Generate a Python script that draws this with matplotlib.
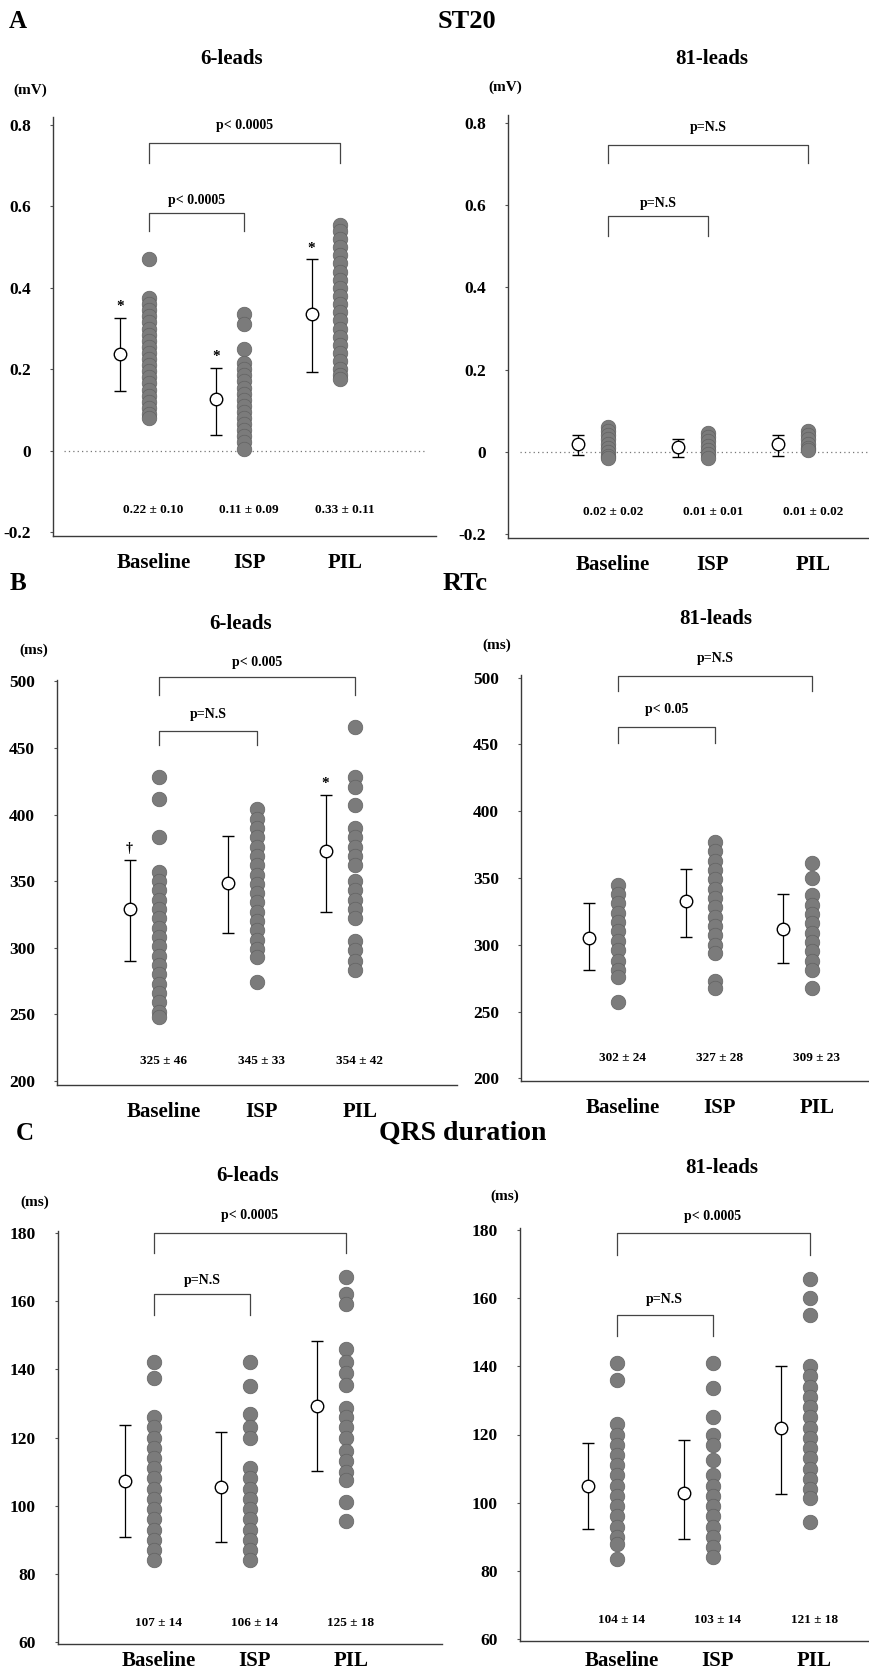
import numpy as np
import matplotlib
matplotlib.use("Agg")
import matplotlib.pyplot as plt

plt.rcParams['font.family'] = ['Liberation Serif', 'DejaVu Serif']
plt.rcParams['font.weight'] = 'bold'

W, H = 870, 1675

groups = ["Baseline", "ISP", "PIL"]

# ---- data ----
# A: ST20 (mV)
st6_dots = [
    [0.47, 0.375, 0.36, 0.345, 0.33, 0.315, 0.30, 0.285, 0.27, 0.255, 0.24, 0.225, 0.21, 0.195,
     0.18, 0.165, 0.15, 0.135, 0.12, 0.105, 0.09, 0.08],
    [0.335, 0.31, 0.25, 0.215, 0.20, 0.185, 0.17, 0.155, 0.14, 0.125, 0.11, 0.095, 0.08,
     0.065, 0.05, 0.035, 0.02, 0.005],
    [0.555, 0.54, 0.52, 0.50, 0.48, 0.46, 0.44, 0.42, 0.40, 0.38, 0.36, 0.34, 0.32, 0.30,
     0.28, 0.26, 0.24, 0.22, 0.20, 0.185, 0.175],
]
st6_mean = [0.238, 0.128, 0.336]
st6_lo = [0.146, 0.038, 0.194]
st6_hi = [0.326, 0.203, 0.47]
st6_txt = ["0.22 ± 0.10", "0.11 ± 0.09", "0.33 ± 0.11"]
st6_mark = ["*", "*", "*"]

st81_dots = [
    [0.06, 0.05, 0.04, 0.03, 0.02, 0.01, 0.0, -0.01, -0.015],
    [0.045, 0.035, 0.025, 0.015, 0.005, -0.005, -0.015],
    [0.05, 0.04, 0.03, 0.02, 0.01, 0.005],
]
st81_mean = [0.018, 0.012, 0.018]
st81_lo = [-0.008, -0.012, -0.01]
st81_hi = [0.04, 0.03, 0.04]
st81_txt = ["0.02 ± 0.02", "0.01 ± 0.01", "0.01 ± 0.02"]

# B: RTc (ms)
rt6_dots = [
    [428, 412, 383, 357, 350, 343, 336, 329, 322, 315, 308, 301, 294, 287, 280, 273, 266, 259, 252, 248],
    [404, 397, 390, 383, 376, 369, 362, 355, 348, 341, 334, 327, 320, 313, 306, 299, 293, 274],
    [466, 428, 421, 407, 390, 383, 376, 369, 362, 350, 343, 336, 329, 322, 305, 298, 290, 283],
]
rt6_mean = [329, 349, 373]
rt6_lo = [290, 311, 327]
rt6_hi = [366, 384, 415]
rt6_txt = ["325 ± 46", "345 ± 33", "354 ± 42"]
rt6_mark = ["†", "", "*"]

rt81_dots = [
    [345, 338, 331, 324, 317, 310, 303, 296, 288, 281, 276, 257],
    [377, 370, 363, 356, 349, 342, 335, 328, 321, 314, 307, 300, 294, 273, 268],
    [361, 350, 337, 330, 323, 316, 309, 302, 295, 288, 281, 268],
]
rt81_mean = [305, 333, 312]
rt81_lo = [281, 306, 286]
rt81_hi = [331, 357, 338]
rt81_txt = ["302 ± 24", "327 ± 28", "309 ± 23"]

# C: QRS duration (ms)
qrs6_dots = [
    [142, 137.5, 126, 123, 120, 117, 114, 111, 108, 105, 102, 99, 96, 93, 90, 87, 84],
    [142, 135, 127, 123, 120, 111, 108, 105, 102, 99, 96, 93, 90, 87, 84],
    [167, 162, 159, 146, 142, 139, 135.5, 128.5, 126, 123, 120, 116, 113, 110, 107.5, 101, 95.5],
]
qrs6_mean = [107.3, 105.6, 129.3]
qrs6_lo = [90.9, 89.4, 110.2]
qrs6_hi = [123.7, 121.7, 148.3]
qrs6_txt = ["107 ± 14", "106 ± 14", "125 ± 18"]

qrs81_dots = [
    [141, 136, 123, 120, 117, 114, 111, 108, 105, 102, 99, 96, 93, 90, 88, 83.5],
    [141, 133.5, 125, 120, 117, 112.5, 108, 105, 102, 99, 96, 93, 90, 87, 84],
    [165.5, 160, 155, 140, 137, 134, 131, 128, 125, 122, 119, 116, 113, 110, 107, 104, 101.5, 94.5],
]
qrs81_mean = [105, 103, 122]
qrs81_lo = [92.3, 89.4, 102.5]
qrs81_hi = [117.4, 118.3, 140]
qrs81_txt = ["104 ± 14", "103 ± 14", "121 ± 18"]

fig = plt.figure(figsize=(W / 100, H / 100), dpi=100)


def px_axes(left, top, right, bottom):
    return fig.add_axes([left / W, 1 - bottom / H, (right - left) / W, (bottom - top) / H])


def ftext(x, y, s, **kw):
    fig.text(x / W, 1 - y / H, s, ha='center', va='center', fontweight='bold', **kw)


def panel(ax, dots, mean, lo, hi, txt, ylim, yticks, ytl, txt_y, br_top, br_low, marks=None,
          xlim=(0, 4), zero_line=False, xpad=12):
    ax.set_xlim(*xlim)
    ax.set_ylim(*ylim)
    for s in ['top', 'right']:
        ax.spines[s].set_visible(False)
    for s in ['left', 'bottom']:
        ax.spines[s].set_color('#3a3a3a')
        ax.spines[s].set_linewidth(1.0)
    ax.set_yticks(yticks)
    ax.set_yticklabels(ytl, fontsize=12.5, fontweight='bold')
    ax.tick_params(axis='y', length=2, width=0.8, pad=14, color='#555555')
    ax.set_xticks([1.05, 2.05, 3.05])
    ax.set_xticklabels(groups, fontsize=15, fontweight='bold')
    ax.tick_params(axis='x', length=0, pad=xpad)
    if zero_line:
        ax.axhline(0, xmin=0.03, xmax=0.97, color='#777777', lw=0.9, ls=(0, (1, 2.5)), zorder=1)
    for i in range(3):
        xd = i + 1
        xm = xd - 0.3
        ax.scatter(np.full(len(dots[i]), xd), dots[i], s=110, color='#7b7b7b',
                   edgecolors='#626262', linewidths=0.5, zorder=3)
        ax.errorbar([xm], [mean[i]], yerr=[[mean[i] - lo[i]], [hi[i] - mean[i]]], fmt='o',
                    ms=9, mfc='white', mec='black', mew=1.0, ecolor='black', elinewidth=0.9,
                    capsize=4, capthick=0.9, zorder=4)
        if marks and marks[i]:
            span = ylim[1] - ylim[0]
            ax.text(xm, hi[i] + span * 0.027, marks[i], ha='center', va='center',
                    fontsize=11 if marks[i] == '*' else 10, fontweight='bold')
        ax.text(xd + 0.05, txt_y, txt[i], ha='center', va='center', fontsize=9.5,
                fontweight='bold')
    # comparison brackets: (y_top, y_tip, label, label_y, x_end)
    for (yt, ytip, lab, ly, x2) in [br_top, br_low]:
        ax.plot([1, 1, x2, x2], [ytip, yt, yt, ytip], color='#444444', lw=0.9,
                clip_on=False, zorder=2)
        ax.text((1 + x2) / 2, ly, lab, ha='center', va='center', fontsize=10,
                fontweight='bold', clip_on=False)


# ---------- A: ST20 ----------
st_ticks = [-0.2, 0, 0.2, 0.4, 0.6, 0.8]
st_tl = ["-0.2", "0", "0.2", "0.4", "0.6", "0.8"]
axA1 = px_axes(53, 117, 436, 536)
panel(axA1, st6_dots, st6_mean, st6_lo, st6_hi, st6_txt, (-0.21, 0.82), st_ticks, st_tl,
      -0.147, (0.756, 0.707, "p< 0.0005", 0.80, 3), (0.585, 0.54, "p< 0.0005", 0.615, 2),
      marks=st6_mark, zero_line=True)
axA2 = px_axes(508, 115, 908, 538)
panel(axA2, st81_dots, st81_mean, st81_lo, st81_hi, st81_txt, (-0.21, 0.82), st_ticks, st_tl,
      -0.147, (0.747, 0.704, "p=N.S", 0.79, 3), (0.574, 0.526, "p=N.S", 0.604, 2),
      zero_line=True)

# ---------- B: RTc ----------
rt_ticks = [200, 250, 300, 350, 400, 450, 500]
axB1 = px_axes(57, 680, 457, 1085)
panel(axB1, rt6_dots, rt6_mean, rt6_lo, rt6_hi, rt6_txt, (197, 501), rt_ticks,
      [str(t) for t in rt_ticks], 215, (503, 490, "p< 0.005", 514, 3),
      (463, 452, "p=N.S", 475, 2), marks=rt6_mark, xlim=(-0.04, 4.04))
axB2 = px_axes(521, 675, 909, 1081)
panel(axB2, rt81_dots, rt81_mean, rt81_lo, rt81_hi, rt81_txt, (198, 502), rt_ticks,
      [str(t) for t in rt_ticks], 215, (501, 490, "p=N.S", 514, 3),
      (463, 451, "p< 0.05", 476, 2))

# ---------- C: QRS duration ----------
qrs_ticks = [60, 80, 100, 120, 140, 160, 180]
axC1 = px_axes(58, 1231, 442, 1644)
panel(axC1, qrs6_dots, qrs6_mean, qrs6_lo, qrs6_hi, qrs6_txt, (59.5, 180.5), qrs_ticks,
      [str(t) for t in qrs_ticks], 65.6, (180, 174, "p< 0.0005", 185, 3),
      (162, 156, "p=N.S", 166, 2), xpad=5)
axC2 = px_axes(520, 1228, 906, 1641)
panel(axC2, qrs81_dots, qrs81_mean, qrs81_lo, qrs81_hi, qrs81_txt, (59.5, 180.5), qrs_ticks,
      [str(t) for t in qrs_ticks], 65.6, (179, 172.7, "p< 0.0005", 184, 3),
      (155, 149, "p=N.S", 159.5, 2), xpad=7)

# ---------- figure texts ----------
ftext(18, 22, "A", fontsize=18)
ftext(18, 584, "B", fontsize=18)
ftext(25, 1133, "C", fontsize=18)
ftext(467, 21, "ST20", fontsize=19)
ftext(465, 584, "RTc", fontsize=19)
ftext(463, 1133, "QRS duration", fontsize=20)
ftext(232, 59, "6-leads", fontsize=15)
ftext(712, 59, "81-leads", fontsize=15)
ftext(241, 624, "6-leads", fontsize=15)
ftext(716, 619, "81-leads", fontsize=15)
ftext(248, 1176, "6-leads", fontsize=15)
ftext(722, 1168, "81-leads", fontsize=15)
ftext(30, 90, "(mV)", fontsize=11)
ftext(505, 87, "(mV)", fontsize=11)
ftext(34, 650, "(ms)", fontsize=11)
ftext(497, 645, "(ms)", fontsize=11)
ftext(35, 1202, "(ms)", fontsize=11)
ftext(505, 1196, "(ms)", fontsize=11)

fig.savefig("out.png", dpi=100)
